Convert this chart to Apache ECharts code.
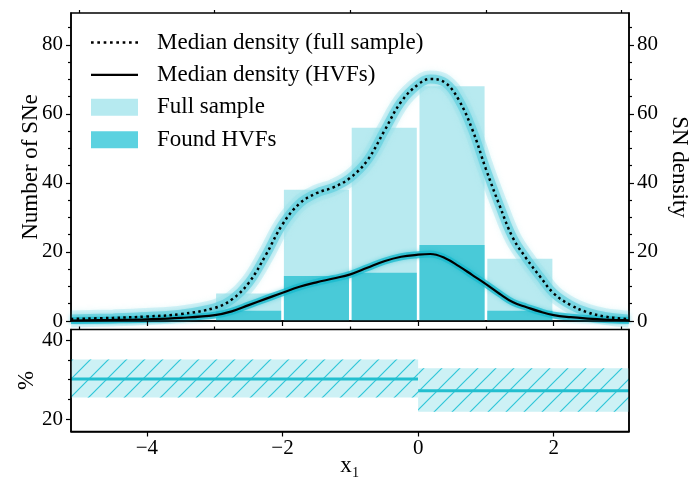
<!DOCTYPE html>
<html>
<head>
<meta charset="utf-8">
<script src="https://cdn.jsdelivr.net/npm/echarts@6/dist/echarts.min.js"></script>
<style>
  html, body { margin: 0; padding: 0; background: #fff; }
  #chart { width: 699px; height: 481px; }
</style>
</head>
<body>
<div id="chart"></div>
<script>
// ---------------- data ----------------
const xRange = [-5.12, 3.11];
const histBinStart = [-3, -2, -1, 0, 1];
const histBinEnd = [-2, -1, 0, 1, 2];
const fullCounts = [8, 38, 56, 68, 18];
const hvfCounts = [3, 13, 14, 22, 3];

const densityX = [-5.12, -4.5, -4.0, -3.5, -3.0, -2.75, -2.5, -2.25, -2.0, -1.75, -1.5, -1.25, -1.0, -0.75, -0.5, -0.25, 0.0, 0.18, 0.4, 0.6, 0.8, 1.0, 1.2, 1.4, 1.6, 1.8, 2.0, 2.25, 2.5, 2.75, 3.0, 3.11];
const fullDensity = [0.6, 0.9, 1.3, 2.0, 3.8, 6.2, 11, 19, 28, 34, 37, 38.7, 41.5, 46.5, 55, 63.5, 68.5, 70.1, 69, 64, 55.4, 44, 33.5, 24, 18, 12.8, 8, 4.6, 2.5, 1.3, 0.7, 0.5];
const hvfDensity = [0.15, 0.3, 0.5, 0.9, 1.7, 2.8, 4.6, 6.4, 8.2, 9.9, 11.2, 12.3, 13.5, 15.4, 17.3, 18.6, 19.2, 19.4, 18.2, 15.9, 13.3, 10.7, 7.9, 5.4, 4.0, 2.7, 1.7, 1.1, 0.7, 0.4, 0.25, 0.2];

const fracStart = [-5.12, 0];
const fracEnd = [0, 3.11];
const fracMedian = [30.2, 27.2];
const fracLow = [25.5, 21.9];
const fracHigh = [35.1, 32.9];

const topYRange = [0, 89.2];
const botYRange = [16.9, 42.7];
const xMajorTicks = [-4, -2, 0, 2];
const xMinorTicks = [-5, -3, -1, 1, 3];
const topYMajor = [0, 20, 40, 60, 80];
const topYMinor = [5, 10, 15, 25, 30, 35, 45, 50, 55, 65, 70, 75, 85];
const botYMajor = [20, 40];
const botYMinor = [25, 30, 35];

// ---------------- helpers ----------------
const FONT = 'Liberation Serif';
const TICK_FS = 21;
const LABEL_FS = 23;
const minusFmt = v => String(v).replace('-', '\u2212');

// legend icons (pure styling): dotted and solid line glyphs
let dottedIconPath = 'path://';
for (let k = 0; k < 8; k++) {
  const x = 0.5 + k * 6.2;
  dottedIconPath += 'M' + x + ',0h2.6v2.6h-2.6z';
}
const solidIconPath = 'path://M0,0H47V2.3H0Z';

const hatch = document.createElement('canvas');
hatch.width = 18; hatch.height = 18;
(function () {
  const c = hatch.getContext('2d');
  c.strokeStyle = '#2fc6d8';
  c.lineWidth = 1.2;
  c.beginPath();
  c.moveTo(-2, 20); c.lineTo(20, -2);
  c.moveTo(-20, 20); c.lineTo(2, -2);
  c.moveTo(16, 20); c.lineTo(38, -2);
  c.stroke();
})();

function barRender(params, api) {
  const x0 = api.value(0), x1 = api.value(1), h = api.value(2);
  const a = api.coord([x0, 0]);
  const b = api.coord([x1, h]);
  const inset = (b[0] - a[0]) * 0.02;
  return {
    type: 'rect',
    shape: { x: a[0] + inset, y: b[1], width: b[0] - a[0] - 2 * inset, height: a[1] - b[1] },
    style: { fill: api.visual('color') }
  };
}

function fracRender(params, api) {
  const x0 = api.value(0), x1 = api.value(1), m = api.value(2), lo = api.value(3), hi = api.value(4);
  const a = api.coord([x0, hi]);
  const b = api.coord([x1, lo]);
  const c = api.coord([x0, m]);
  const d = api.coord([x1, m]);
  const shape = { x: a[0], y: a[1], width: b[0] - a[0], height: b[1] - a[1] };
  return {
    type: 'group',
    children: [
      { type: 'rect', shape: shape, style: { fill: '#cdf1f5' } },
      { type: 'rect', shape: shape, style: { fill: { image: hatch, repeat: 'repeat' } } },
      { type: 'line', shape: { x1: c[0], y1: c[1], x2: d[0], y2: d[1] }, style: { stroke: '#22bfcf', lineWidth: 3 } }
    ]
  };
}

const pairs = (xs, ys) => xs.map((x, i) => [x, ys[i]]);

const tickLabelStyle = { fontFamily: FONT, fontSize: TICK_FS, color: '#000' };
const nameStyle = { fontFamily: FONT, fontSize: LABEL_FS, color: '#000' };

function xAxisDef(gridIndex, ticks, len, showLine, labels, extra) {
  return Object.assign({
    type: 'value', gridIndex: gridIndex, min: xRange[0], max: xRange[1], z: 5,
    axisLine: { show: showLine, onZero: false, lineStyle: { color: '#000', width: 1.5 } },
    axisTick: { show: true, customValues: ticks, length: len, lineStyle: { color: '#000', width: 1.2 } },
    axisLabel: labels ? Object.assign({ show: true, customValues: labels, margin: 6, formatter: minusFmt }, tickLabelStyle) : { show: false },
    splitLine: { show: false }
  }, extra || {});
}

function yAxisDef(gridIndex, pos, range, ticks, len, showLine, labels, extra) {
  return Object.assign({
    type: 'value', gridIndex: gridIndex, position: pos, min: range[0], max: range[1], z: 5,
    axisLine: { show: showLine, onZero: false, lineStyle: { color: '#000', width: 1.5 } },
    axisTick: { show: true, customValues: ticks, length: len, lineStyle: { color: '#000', width: 1.2 } },
    axisLabel: labels ? Object.assign({ show: true, customValues: labels, margin: 8 }, tickLabelStyle) : { show: false },
    splitLine: { show: false }
  }, extra || {});
}

const chart = echarts.init(document.getElementById('chart'), null, { renderer: 'canvas' });

const option = {
  backgroundColor: '#fff',
  animation: false,
  grid: [
    { left: 71, right: 70, top: 13, height: 308, show: true, borderColor: '#000', borderWidth: 1.5 },
    { left: 71, right: 70, top: 329.5, height: 102, show: true, borderColor: '#000', borderWidth: 1.5 }
  ],
  legend: {
    orient: 'vertical', left: 86, top: 26,
    itemWidth: 47, itemHeight: 17, itemGap: 9.4, symbolKeepAspect: true,
    textStyle: { fontFamily: FONT, fontSize: LABEL_FS, color: '#000', lineHeight: 23, padding: [0, 0, 0, 14] },
    data: [
      { name: 'Median density (full sample)', icon: dottedIconPath, itemStyle: { color: '#000', borderWidth: 0 } },
      { name: 'Median density (HVFs)', icon: solidIconPath, itemStyle: { color: '#000', borderWidth: 0 } },
      { name: 'Full sample', icon: 'rect', itemStyle: { color: '#b6eaf0' } },
      { name: 'Found HVFs', icon: 'rect', itemStyle: { color: '#5cd2e0' } }
    ]
  },
  xAxis: [
    xAxisDef(0, xMajorTicks, 5, true, null),
    xAxisDef(0, xMinorTicks, 3, false, null),
    xAxisDef(1, xMajorTicks, 5, true, xMajorTicks, {
      name: 'x\u2081', nameLocation: 'middle', nameGap: 23, nameMoveOverlap: false,
      nameTextStyle: nameStyle
    }),
    xAxisDef(1, xMinorTicks, 3, false, null)
  ],
  yAxis: [
    yAxisDef(0, 'left', topYRange, topYMajor, 5, true, topYMajor, {
      name: 'Number of SNe', nameLocation: 'middle', nameGap: 29, nameRotate: 90, nameMoveOverlap: false,
      nameTextStyle: nameStyle
    }),
    yAxisDef(0, 'left', topYRange, topYMinor, 3, false, null),
    yAxisDef(0, 'right', topYRange, topYMajor, 5, true, topYMajor, {
      name: 'SN density', nameLocation: 'middle', nameGap: 39, nameRotate: -90, nameMoveOverlap: false,
      nameTextStyle: nameStyle
    }),
    yAxisDef(0, 'right', topYRange, topYMinor, 3, false, null),
    yAxisDef(1, 'left', botYRange, botYMajor, 5, true, botYMajor, {
      name: '%', nameLocation: 'middle', nameGap: 33, nameRotate: 90, nameMoveOverlap: false,
      nameTextStyle: nameStyle
    }),
    yAxisDef(1, 'left', botYRange, botYMinor, 3, false, null),
    yAxisDef(1, 'right', botYRange, [], 0, true, null)
  ],
  series: [
    {
      name: 'Full sample', type: 'custom', xAxisIndex: 0, yAxisIndex: 0,
      renderItem: barRender, itemStyle: { color: '#b8eaf0' },
      encode: { x: [0, 1], y: 2 },
      data: histBinStart.map((s, i) => [s, histBinEnd[i], fullCounts[i]]), z: 1
    },
    {
      name: 'Found HVFs', type: 'custom', xAxisIndex: 0, yAxisIndex: 0,
      renderItem: barRender, itemStyle: { color: '#49cad8' },
      encode: { x: [0, 1], y: 2 },
      data: histBinStart.map((s, i) => [s, histBinEnd[i], hvfCounts[i]]), z: 1
    },
    {
      type: 'line', xAxisIndex: 0, yAxisIndex: 0, silent: true, smooth: 0.4, symbol: 'none',
      lineStyle: { color: 'rgba(160,228,237,0.4)', width: 17, shadowBlur: 6, shadowColor: 'rgba(160,228,237,0.5)' },
      data: pairs(densityX, fullDensity), z: 2
    },
    {
      type: 'line', xAxisIndex: 0, yAxisIndex: 0, silent: true, smooth: 0.4, symbol: 'none',
      lineStyle: { color: 'rgba(100,208,222,0.7)', width: 9, shadowBlur: 5, shadowColor: 'rgba(100,208,222,0.6)' },
      data: pairs(densityX, fullDensity), z: 2
    },
    {
      type: 'line', xAxisIndex: 0, yAxisIndex: 0, silent: true, smooth: 0.4, symbol: 'none',
      lineStyle: { color: 'rgba(24,186,206,0.75)', width: 7, shadowBlur: 4, shadowColor: 'rgba(24,186,206,0.6)' },
      data: pairs(densityX, hvfDensity), z: 2
    },
    {
      name: 'Median density (full sample)', type: 'line', xAxisIndex: 0, yAxisIndex: 0,
      smooth: 0.4, symbol: 'none', showSymbol: false, color: '#000',
      lineStyle: { color: '#000', width: 2.5, type: [2.5, 3.3] },
      data: pairs(densityX, fullDensity), z: 3
    },
    {
      name: 'Median density (HVFs)', type: 'line', xAxisIndex: 0, yAxisIndex: 0,
      smooth: 0.4, symbol: 'none', showSymbol: false, color: '#000',
      lineStyle: { color: '#000', width: 2.2 },
      data: pairs(densityX, hvfDensity), z: 3
    },
    {
      type: 'custom', xAxisIndex: 2, yAxisIndex: 4, clip: true, silent: true,
      renderItem: fracRender, encode: { x: [0, 1], y: [3, 4] },
      data: fracStart.map((s, i) => [s, fracEnd[i], fracMedian[i], fracLow[i], fracHigh[i]]), z: 1
    }
  ]
};

chart.setOption(option);
</script>
</body>
</html>
